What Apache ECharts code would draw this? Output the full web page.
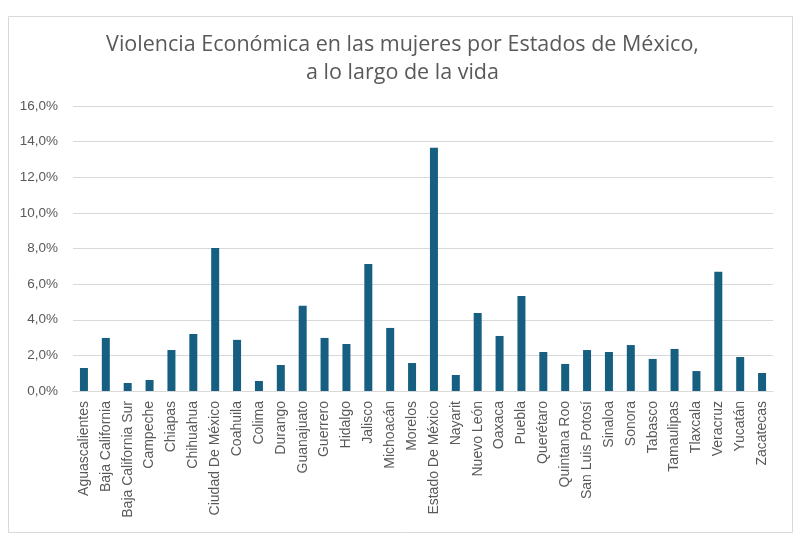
<!DOCTYPE html>
<html>
<head>
<meta charset="utf-8">
<script src="https://cdn.jsdelivr.net/npm/echarts@6/dist/echarts.min.js"></script>
<style>
html,body{margin:0;padding:0;background:#fff;}
#c{width:805px;height:541px;}
</style>
</head>
<body>
<div id="c"></div>
<script>
const categories = ["Aguascalientes","Baja California","Baja California Sur","Campeche","Chiapas","Chihuahua","Ciudad De México","Coahuila","Colima","Durango","Guanajuato","Guerrero","Hidalgo","Jalisco","Michoacán","Morelos","Estado De México","Nayarit","Nuevo León","Oaxaca","Puebla","Querétaro","Quintana Roo","San Luis Potosí","Sinaloa","Sonora","Tabasco","Tamaulipas","Tlaxcala","Veracruz","Yucatán","Zacatecas"];
const values = [1.29,2.98,0.45,0.62,2.30,3.20,8.03,2.87,0.56,1.46,4.78,2.98,2.64,7.13,3.54,1.57,13.65,0.90,4.38,3.09,5.34,2.19,1.52,2.30,2.19,2.58,1.80,2.36,1.12,6.69,1.91,1.01];
const titleLines = ["Violencia Económica en las mujeres por Estados de México,", "a lo largo de la vida"];

const chart = echarts.init(document.getElementById('c'), null, {renderer:'canvas'});
chart.setOption({
  animation:false,
  backgroundColor:'#ffffff',
  title:{
    text: titleLines.join('\n'),
    left:'center', top:26,
    textStyle:{color:'#595959', fontSize:21.5, fontWeight:'normal', fontFamily:"'Open Sans', sans-serif", lineHeight:28}
  },
  graphic:[{
    type:'rect', shape:{x:8.5,y:16.5,width:784,height:516},
    style:{fill:'none', stroke:'#d9d9d9', lineWidth:1}, silent:true
  }],
  grid:{left:73, right:32, top:106, bottom:150},
  xAxis:{
    type:'category', data:categories,
    axisLine:{lineStyle:{color:'#d9d9d9'}},
    axisTick:{show:false},
    axisLabel:{rotate:90, interval:0, color:'#595959', fontSize:14, fontFamily:"'Liberation Sans', Arial, sans-serif", margin:10}
  },
  yAxis:{
    type:'value', min:0, max:16, interval:2,
    axisLine:{show:false}, axisTick:{show:false},
    splitLine:{lineStyle:{color:'#d9d9d9'}},
    axisLabel:{color:'#595959', fontSize:13.5, fontFamily:"'Liberation Sans', Arial, sans-serif", margin:15,
      formatter: v => v.toFixed(1).replace('.', ',') + '%'}
  },
  series:[{
    type:'bar', data:values, barWidth:8,
    itemStyle:{color:'#175f81'}
  }]
});
</script>
</body>
</html>
